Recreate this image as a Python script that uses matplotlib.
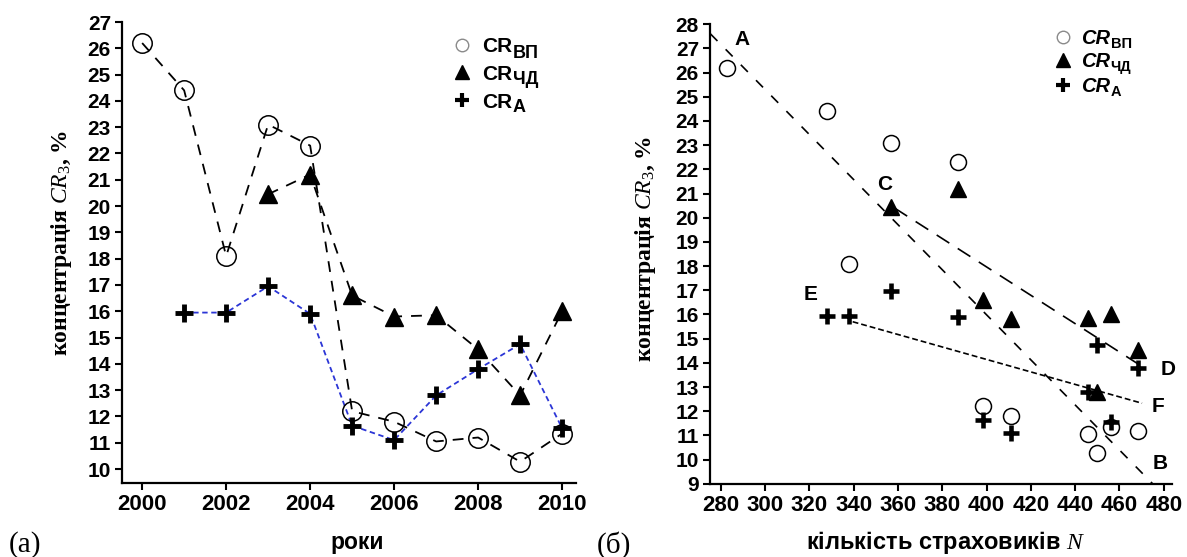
import matplotlib
matplotlib.use("Agg")
import matplotlib.pyplot as plt
from matplotlib.lines import Line2D

plt.rcParams['font.family'] = ['Liberation Sans', 'DejaVu Sans']
plt.rcParams['mathtext.fontset'] = 'custom'
plt.rcParams['mathtext.rm'] = 'Liberation Serif'
plt.rcParams['mathtext.it'] = 'Liberation Serif:italic'
plt.rcParams['mathtext.bf'] = 'Liberation Sans:bold'

# ---------------- data ----------------
years = [2000, 2001, 2002, 2003, 2004, 2005, 2006, 2007, 2008, 2009, 2010]
n_insurers = [283, 328, 338, 357, 387, 398.5, 411, 446, 468.5, 450, 456]
cr_vp = [26.2, 24.4, 18.1, 23.1, 22.3, 12.2, 11.8, 11.05, 11.2, 10.28, 11.35]
years_chd = [2003, 2004, 2005, 2006, 2007, 2008, 2009, 2010]
n_chd = [357, 387, 398.5, 411, 446, 468.5, 450, 456]
cr_chd = [20.45, 21.2, 16.6, 15.8, 15.85, 14.55, 12.8, 16.0]
years_a = [2001, 2002, 2003, 2004, 2005, 2006, 2007, 2008, 2009, 2010]
n_a = [328, 338, 357, 387, 398.5, 411, 446, 468.5, 450, 456]
cr_a = [15.95, 15.95, 16.95, 15.9, 11.65, 11.1, 12.8, 13.8, 14.75, 11.55]

# trend lines (б)
line_ab_x, line_ab_y = [275.4, 475.0], [27.6, 9.0]
line_cd_x, line_cd_y = [358.5, 468.5], [20.4, 13.95]
line_ef_x, line_ef_y = [339.6, 470.2], [15.7, 12.33]
point_labels = ['A', 'B', 'C', 'D', 'E', 'F']
point_label_x = [289.8, 478.3, 354.2, 481.9, 320.7, 477.4]
point_label_y = [27.38, 9.84, 21.36, 13.73, 16.81, 12.18]

legend_main = ['CR', 'CR', 'CR']
legend_subs = ['ВП', 'ЧД', 'А']

x_ticks_left = [2000, 2002, 2004, 2006, 2008, 2010]
y_ticks_left = list(range(10, 28))
x_ticks_right = list(range(280, 481, 20))
y_ticks_right = list(range(9, 29))

W, H = 1187, 557
fig = plt.figure(figsize=(W / 100, H / 100), dpi=100)

def px_axes(x0, y_top, x1, y_bot):
    return fig.add_axes([x0 / W, 1 - y_bot / H, (x1 - x0) / W, (y_bot - y_top) / H])

def style_axes(ax, xfs, yfs):
    for s in ['top', 'right']:
        ax.spines[s].set_visible(False)
    for s in ['left', 'bottom']:
        ax.spines[s].set_linewidth(1.6)
    ax.tick_params(direction='out', length=5, width=1.5, pad=3)
    for lab in ax.get_xticklabels():
        lab.set_fontsize(xfs); lab.set_fontweight('bold')
    for lab in ax.get_yticklabels():
        lab.set_fontsize(yfs); lab.set_fontweight('bold')

blue = '#2b35d6'

# ---------------- panel (a) ----------------
ax1 = px_axes(122, 22, 576, 483)
ax1.plot(years, cr_vp, color='black', lw=1.3, dashes=(6, 5))
ax1.plot(years_chd, cr_chd, color='black', lw=1.3, dashes=(6, 5))
ax1.plot(years_a, cr_a, color=blue, lw=1.3, dashes=(3, 2))
ax1.plot(years, cr_vp, linestyle='none', marker='o', ms=14, mfc='none', mec='black', mew=1.1)
ax1.plot(years_chd, cr_chd, linestyle='none', marker='^', ms=13, mfc='black', mec='black')
ax1.plot(years_a, cr_a, linestyle='none', marker='+', ms=13, mec='black', mew=3.5)
ax1.set_xlim(1999.52, 2010.33)
ax1.set_ylim(9.47, 27)
ax1.set_xticks(x_ticks_left)
ax1.set_yticks(y_ticks_left)
style_axes(ax1, 16, 15)

fig.text(357 / W, 1 - 542 / H, 'роки', ha='center', va='center', fontsize=16.5, fontweight='bold')
fig.text(61 / W, 1 - 243 / H, 'концентрація $CR_3$, %', rotation=90, ha='center', va='center',
         fontsize=17, fontweight='bold', family=['Liberation Serif', 'DejaVu Serif'])
fig.text(9 / W, 1 - 545 / H, '(a)', ha='left', va='center', fontsize=21,
         family=['Liberation Serif', 'DejaVu Serif'])

# ---------------- panel (б) ----------------
ax2 = px_axes(710, 24.2, 1172.4, 483.8)
ax2.plot(line_ab_x, line_ab_y, color='black', lw=1.2, dashes=(6, 7))
ax2.plot(line_cd_x, line_cd_y, color='black', lw=1.2, dashes=(9, 6))
ax2.plot(line_ef_x, line_ef_y, color='black', lw=1.2, dashes=(3.5, 1.8))
ax2.plot(n_insurers, cr_vp, linestyle='none', marker='o', ms=11.5, mfc='none', mec='black', mew=1.1)
ax2.plot(n_chd, cr_chd, linestyle='none', marker='^', ms=11, mfc='black', mec='black')
ax2.plot(n_a, cr_a, linestyle='none', marker='+', ms=12, mec='black', mew=3.3)
for t, x, y in zip(point_labels, point_label_x, point_label_y):
    ax2.text(x, y, t, ha='center', va='center', fontsize=15, fontweight='bold')
ax2.set_xlim(275.2, 483.9)
ax2.set_ylim(9, 28)
ax2.set_xticks(x_ticks_right)
ax2.set_yticks(y_ticks_right)
style_axes(ax2, 16, 15)

fig.text(946 / W, 1 - 542 / H, 'кількість страховиків $N$', ha='center', va='center',
         fontsize=17, fontweight='bold')
fig.text(646 / W, 1 - 249 / H, 'концентрація $CR_3$, %', rotation=90, ha='center', va='center',
         fontsize=17, fontweight='bold', family=['Liberation Serif', 'DejaVu Serif'])
fig.text(597 / W, 1 - 545 / H, '(б)', ha='left', va='center', fontsize=21,
         family=['Liberation Serif', 'DejaVu Serif'])

# ---------------- legends (drawn as text + marker keys) ----------------
marker_specs = [dict(marker='o', ms=9, mfc='none', mec='#8a8a8a', mew=1.0),
                dict(marker='^', ms=10, mfc='black', mec='black'),
                dict(marker='+', ms=10, mec='black', mew=3.0)]

def draw_legend(marker_x, text_x, rows_y, main_fs, sub_fs, main_style, sub_drop):
    entries = []
    for spec, y, main in zip(marker_specs, rows_y, legend_main):
        fig.add_artist(Line2D([marker_x / W], [1 - y / H], transform=fig.transFigure,
                              linestyle='none', **spec))
        base = y + 0.36 * main_fs * 100 / 72
        t = fig.text(text_x / W, 1 - base / H, main, ha='left', va='baseline',
                     fontsize=main_fs, fontweight='bold', fontstyle=main_style)
        entries.append((t, base))
    fig.canvas.draw()
    r = fig.canvas.get_renderer()
    x_end = entries[0][0].get_window_extent(r).x1
    for (t, base), sub in zip(entries, legend_subs):
        fig.text((x_end + 0.5) / W, 1 - (base + sub_drop) / H, sub, ha='left', va='baseline',
                 fontsize=sub_fs, fontweight='bold')

draw_legend(462, 482, [45, 72, 100], 15, 13, 'normal', 5)
draw_legend(1063, 1081, [37, 60, 85], 14.5, 10.5, 'italic', 3.5)

fig.savefig('out.png', dpi=100)
